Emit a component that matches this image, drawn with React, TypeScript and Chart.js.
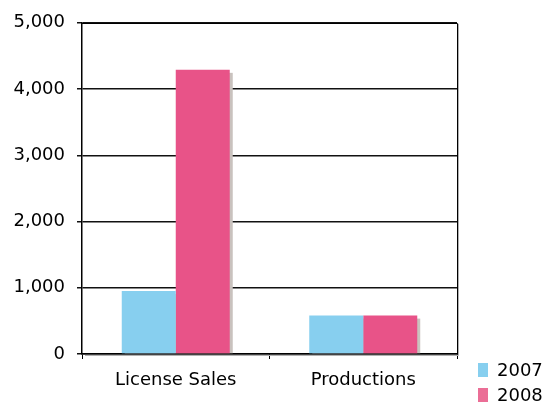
import React, { useEffect, useRef } from "react";
import { Chart, registerables } from "chart.js";

Chart.register(...registerables);

const categories = ["License Sales", "Productions"];
const seriesNames = ["2007", "2008"];
const values2007 = [950, 580];
const values2008 = [4290, 580];
const yTicks = [0, 1000, 2000, 3000, 4000, 5000];

const barColors = ["#87CFEF", "#E85388"];
const legendColors = ["#87CFEF", "#EB6E96"];
const FONT = "'DejaVu Sans', Verdana, sans-serif";

const shadowPlugin = {
  id: "barShadow",
  beforeDatasetsDraw(chart: any) {
    const ctx = chart.ctx;
    ctx.save();
    ctx.fillStyle = "#C9C2BE";
    chart.data.datasets.forEach((_: any, i: number) => {
      const meta = chart.getDatasetMeta(i);
      meta.data.forEach((bar: any) => {
        const w = bar.width;
        const left = bar.x - w / 2 + 3;
        const top = bar.y + 3;
        ctx.fillRect(left, top, w, bar.base - top);
      });
    });
    ctx.restore();
  },
  afterDraw(chart: any) {
    const ctx = chart.ctx;
    const a = chart.chartArea;
    ctx.save();
    // frame shadow
    ctx.strokeStyle = "#B0B0B0";
    ctx.lineWidth = 1;
    ctx.beginPath();
    ctx.moveTo(Math.round(a.right) + 1.5, a.top + 1);
    ctx.lineTo(Math.round(a.right) + 1.5, Math.round(a.bottom) + 1.5);
    ctx.lineTo(a.left + 3, Math.round(a.bottom) + 1.5);
    ctx.stroke();
    // frame
    ctx.strokeStyle = "#000";
    ctx.lineWidth = 1;
    ctx.beginPath();
    ctx.moveTo(a.left, Math.round(a.top) + 0.5);
    ctx.lineTo(Math.round(a.right) + 0.5, Math.round(a.top) + 0.5);
    ctx.lineTo(Math.round(a.right) + 0.5, Math.round(a.bottom) + 0.5);
    ctx.stroke();
    // legend
    ctx.font = `18px ${FONT}`;
    ctx.textBaseline = "middle";
    ctx.textAlign = "left";
    seriesNames.forEach((name, i) => {
      const bx = a.right + 21;
      const by = a.bottom + 9 + i * 25;
      ctx.fillStyle = legendColors[i];
      ctx.fillRect(bx, by, 10, 14);
      ctx.fillStyle = "#000";
      ctx.fillText(name, bx + 19, by + 8);
    });
    ctx.restore();
  },
};

export default function App() {
  const ref = useRef<HTMLCanvasElement>(null);
  useEffect(() => {
    document.body.style.margin = "0";
    const chart = new Chart(ref.current as HTMLCanvasElement, {
      type: "bar",
      data: {
        labels: categories,
        datasets: [
          { label: seriesNames[0], data: values2007, backgroundColor: barColors[0] },
          { label: seriesNames[1], data: values2008, backgroundColor: barColors[1] },
        ],
      },
      options: {
        animation: false,
        responsive: false,
        maintainAspectRatio: false,
        layout: { padding: { top: 21, right: 85, bottom: 0, left: 0 } },
        datasets: { bar: { categoryPercentage: 0.576, barPercentage: 1 } },
        plugins: { legend: { display: false }, tooltip: { enabled: false } },
        scales: {
          x: {
            grid: {
              drawOnChartArea: false,
              drawTicks: true,
              tickLength: 5,
              color: (c: any) => (c.index === 2 ? "rgba(0,0,0,0)" : "#000"),
              lineWidth: 1,
            },
            border: { display: true, color: "#000", width: 1.5 },
            ticks: { color: "#000", font: { family: FONT, size: 18 }, padding: 11 },
            afterFit(s: any) {
              s.height = 49;
            },
          },
          y: {
            min: 0,
            max: 5000,
            afterBuildTicks(s: any) {
              s.ticks = yTicks.map((v) => ({ value: v }));
            },
            grid: { color: "#111", lineWidth: 1.5, tickLength: 5 },
            border: { display: true, color: "#000", width: 1.5 },
            ticks: {
              color: "#000",
              font: { family: FONT, size: 18 },
              padding: 12,
              callback: (v: any) => Number(v).toLocaleString("en-US"),
            },
            afterFit(s: any) {
              s.width = 82;
            },
          },
        },
      },
      plugins: [shadowPlugin],
    });
    return () => chart.destroy();
  }, []);
  return <canvas ref={ref} width={542} height={403} style={{ display: "block" }} />;
}
